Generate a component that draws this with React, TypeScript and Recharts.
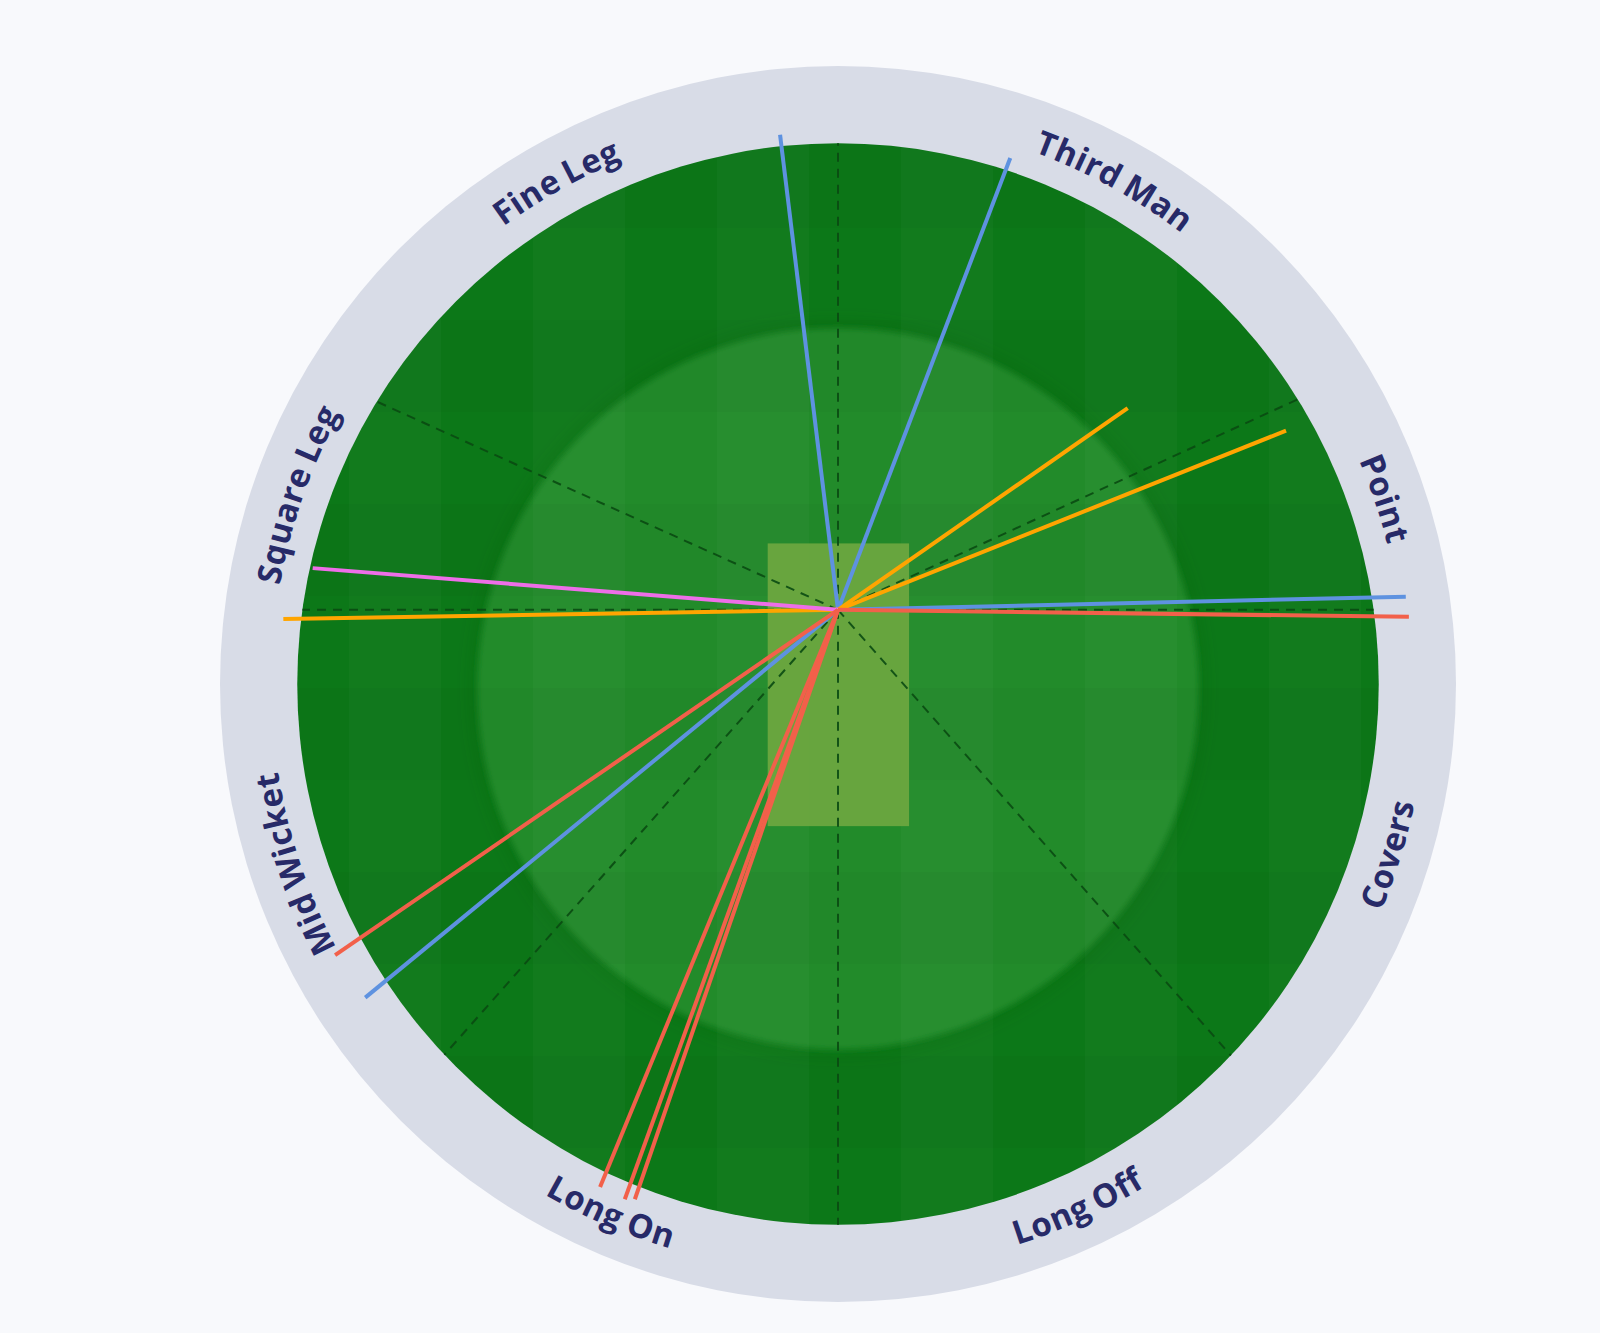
import React from 'react';
import { ScatterChart, Scatter, XAxis, YAxis } from 'recharts';

const W = 1600;
const H = 1333;
const MARGIN = { top: 66, left: 220, right: 144, bottom: 31 };
const DOMAIN = 80;
const PX = (W - MARGIN.left - MARGIN.right) / (2 * DOMAIN);

// field geometry, in field units (centre of the ground = 0,0)
const RING_R = 80;
const BOUNDARY_R = 70;
const INNER_R = 46.7;
const LABEL_R = 74.8;
const STRIKER = { x: 0, y: 9.6 };
const PITCH = { x1: -9.1, x2: 9.2, y1: -18.4, y2: 18.2 };

const sectorNames = ['Third Man', 'Point', 'Covers', 'Long Off', 'Long On', 'Mid Wicket', 'Square Leg', 'Fine Leg'];
const sectorLabelAngles = [28.8, 71.3, 107.2, 155.4, 203.2, 251.7, 289.3, 330.7];
const sectorLabelFlip = [false, false, true, true, true, false, false, false];
// directions of the dashed sector lines from the striker (deg, 0 = right, ccw)
const sectorLineAngles = [90, 24.6, 0, -48.6, -90, 228.5, 180, 155.7];

// shot end points
const shotX = [-7.5, 22.3, 73.5, -61.2, 37.5, 58.0, -71.8, -68.0, 73.9, -65.1, -30.8, -27.6, -26.3];
const shotY = [71.1, 68.1, 11.3, -40.6, 35.7, 32.8, 8.4, 15.0, 8.7, -35.1, -65.1, -66.7, -66.7];
const shotGroup = ['blue', 'blue', 'blue', 'blue', 'orange', 'orange', 'orange', 'pink', 'red', 'red', 'red', 'red', 'red'];

const groupColors: Record<string, string> = {
    blue: '#5e92e0',
    orange: '#ffa500',
    pink: '#ee6ee8',
    red: '#f2604a',
};

function toBoundary(deg: number) {
    const a = (deg * Math.PI) / 180;
    const dx = Math.cos(a);
    const dy = Math.sin(a);
    const od = STRIKER.x * dx + STRIKER.y * dy;
    const oo = STRIKER.x * STRIKER.x + STRIKER.y * STRIKER.y;
    const t = -od + Math.sqrt(od * od - oo + BOUNDARY_R * BOUNDARY_R);
    return { x: STRIKER.x + t * dx, y: STRIKER.y + t * dy };
}

const centre = [{ x: 0, y: 0 }];
const innerCentre = [{ x: 0, y: -0.6 }];
const labelData = sectorNames.map((name, i) => ({ x: 0, y: 0, name, angle: sectorLabelAngles[i], flip: sectorLabelFlip[i] }));
const pitchData = [{ x: (PITCH.x1 + PITCH.x2) / 2, y: (PITCH.y1 + PITCH.y2) / 2 }];

const RingShape = (props: any) => (
    <g>
        <defs>
            <pattern id="mow" patternUnits="userSpaceOnUse" x={717} y={320} width={184} height={184}>
                <rect x={0} y={0} width={92} height={184} fill="#ffffff" fillOpacity={0.022} />
                <rect x={0} y={0} width={184} height={92} fill="#000000" fillOpacity={0.025} />
            </pattern>
            <filter id="soft" x="-10%" y="-10%" width="120%" height="120%">
                <feGaussianBlur stdDeviation="3" />
            </filter>
            <filter id="shade" x="-10%" y="-10%" width="120%" height="120%">
                <feGaussianBlur stdDeviation="8" />
            </filter>
        </defs>
        <circle cx={props.cx} cy={props.cy} r={RING_R * PX} fill="#d8dce7" />
    </g>
);

const FieldShape = (props: any) => (
    <circle cx={props.cx} cy={props.cy} r={BOUNDARY_R * PX} fill="#0c7818" />
);

const InnerShape = (props: any) => (
    <g>
        <circle cx={props.cx} cy={props.cy} r={INNER_R * PX} fill="none" stroke="#06600f" strokeWidth={12} strokeOpacity={0.25} filter="url(#shade)" />
        <circle cx={props.cx} cy={props.cy} r={INNER_R * PX} fill="#238b29" filter="url(#soft)" />
    </g>
);

const MowShape = (props: any) => (
    <circle cx={props.cx} cy={props.cy} r={BOUNDARY_R * PX} fill="url(#mow)" />
);

const PitchShape = (props: any) => {
    const w = (PITCH.x2 - PITCH.x1) * PX;
    const h = (PITCH.y2 - PITCH.y1) * PX;
    return <rect x={props.cx - w / 2} y={props.cy - h / 2} width={w} height={h} fill="#6ba63f" fillOpacity={0.95} />;
};

const pt = (cx: number, cy: number, r: number, deg: number) => {
    const a = (deg * Math.PI) / 180;
    return [cx + r * Math.sin(a), cy - r * Math.cos(a)];
};

const LabelShape = (props: any) => {
    const { cx, cy, payload } = props;
    const flip = payload.flip;
    const r = LABEL_R * PX + (flip ? 11 : -11);
    const a0 = flip ? payload.angle + 70 : payload.angle - 70;
    const a1 = flip ? payload.angle - 70 : payload.angle + 70;
    const [x0, y0] = pt(cx, cy, r, a0);
    const [x1, y1] = pt(cx, cy, r, a1);
    const id = 'lbl-' + payload.name.replace(/\s/g, '');
    return (
        <g>
            <defs>
                <path id={id} d={`M ${x0} ${y0} A ${r} ${r} 0 0 ${flip ? 0 : 1} ${x1} ${y1}`} />
            </defs>
            <text fontFamily="'Open Sans', sans-serif" fontWeight={700} fontSize={33} letterSpacing={0.5} wordSpacing={-2} fill="#272a68">
                <textPath href={`#${id}`} startOffset="50%" textAnchor="middle">
                    {payload.name}
                </textPath>
            </text>
        </g>
    );
};

const none = () => <g />;

export default function App() {
    return (
        <div style={{ position: 'absolute', left: 0, top: 0, width: W, height: H, background: '#f8f9fc' }}>
            <ScatterChart width={W} height={H} margin={MARGIN}>
                <XAxis type="number" dataKey="x" domain={[-DOMAIN, DOMAIN]} hide />
                <YAxis type="number" dataKey="y" domain={[-DOMAIN, DOMAIN]} hide />
                <Scatter data={centre} shape={RingShape} isAnimationActive={false} />
                <Scatter data={centre} shape={FieldShape} isAnimationActive={false} />
                <Scatter data={innerCentre} shape={InnerShape} isAnimationActive={false} />
                <Scatter data={centre} shape={MowShape} isAnimationActive={false} />
                <Scatter data={pitchData} shape={PitchShape} isAnimationActive={false} />
                {sectorLineAngles.map((deg, i) => (
                    <Scatter
                        key={`sector-${i}`}
                        data={[STRIKER, toBoundary(deg)]}
                        fill="#0a4a12"
                        line={{ stroke: '#0a4a12', strokeWidth: 2, strokeDasharray: '9 7', strokeOpacity: 0.9 }}
                        shape={none}
                        isAnimationActive={false}
                    />
                ))}
                {shotX.map((x, i) => (
                    <Scatter
                        key={`shot-${i}`}
                        data={[STRIKER, { x, y: shotY[i] }]}
                        fill={groupColors[shotGroup[i]]}
                        line={{ stroke: groupColors[shotGroup[i]], strokeWidth: 4 }}
                        shape={none}
                        isAnimationActive={false}
                    />
                ))}
                <Scatter data={labelData} shape={LabelShape} isAnimationActive={false} />
            </ScatterChart>
        </div>
    );
}
